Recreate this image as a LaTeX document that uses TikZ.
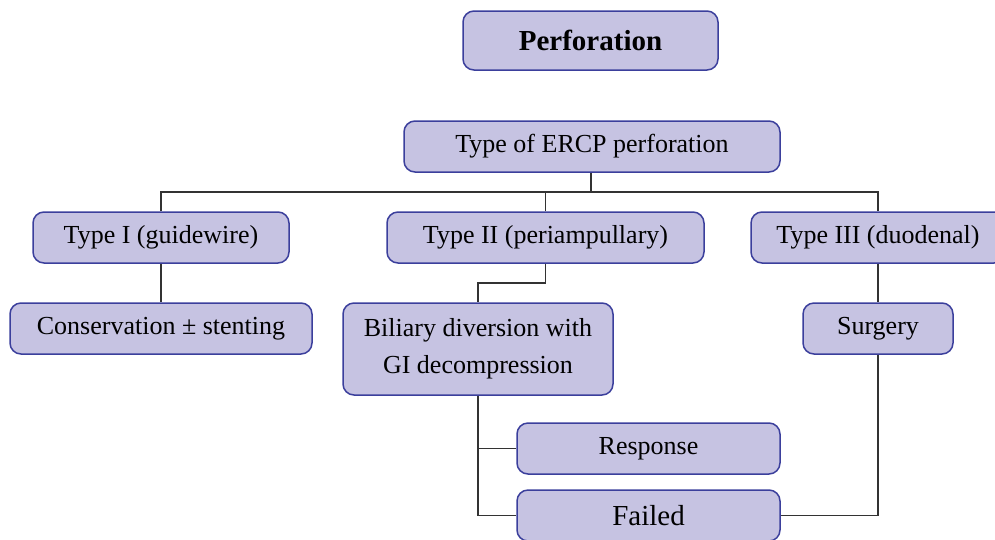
\documentclass[tikz,border=0pt]{standalone}
\usepackage{fontspec}
\setmainfont{Liberation Serif}
\definecolor{boxfill}{HTML}{C6C3E2}
\definecolor{boxline}{HTML}{3B3F9C}
\definecolor{linkcol}{HTML}{333333}
\begin{document}
\begin{tikzpicture}[x=1pt, y=-1pt,
    box/.style={draw=boxline, fill=boxfill, line width=1.5pt, rounded corners=11pt,
        inner sep=0pt, align=center, font=\fontsize{26}{37}\selectfont},
    link/.style={draw=linkcol, line width=1.3pt}]
    \useasboundingbox (0,0) rectangle (995,539);

    \node[box, minimum width=255pt, minimum height=59pt, font=\fontsize{29}{34}\selectfont\bfseries] (perf) at (590.5, 40.5) {Perforation};
    \node[box, minimum width=376pt, minimum height=51pt] (ercp) at (592, 146.5) {Type of ERCP perforation};

    \node[box, minimum width=256pt, minimum height=51pt] (t1) at (161, 237.5) {Type I (guidewire)};
    \node[box, minimum width=317pt, minimum height=51pt] (t2) at (545.5, 237.5) {Type II (periampullary)};
    \node[box, minimum width=254pt, minimum height=51pt] (t3) at (878, 237.5) {Type III (duodenal)};

    \node[box, minimum width=302pt, minimum height=51pt] (cons) at (161, 328.5) {Conservation ± stenting};
    \node[box, minimum width=270pt, minimum height=92pt] (bil) at (478, 349) {Biliary diversion with\\GI decompression};
    \node[box, minimum width=150pt, minimum height=51pt] (surg) at (878, 328.5) {Surgery};

    \node[box, minimum width=263pt, minimum height=51pt] (resp) at (648.5, 448.5) {Response};
    \node[box, minimum width=263pt, minimum height=51pt, font=\fontsize{29}{34}\selectfont] (fail) at (648.5, 515.5) {Failed};

    \coordinate (bus) at (591, 192);
    \coordinate (knee) at (478, 283);

    \draw[link] (ercp.south -| bus) -- (bus);
    \draw[link] (t1.north) |- (bus) -| (t3.north);
    \draw[link] (t2.north) -- (t2.north |- bus);
    \draw[link] (t1.south) -- (cons.north);
    \draw[link] (t2.south) |- (knee) -- (bil.north);
    \draw[link] (t3.south) -- (surg.north);
    \draw[link] (bil.south) |- (resp.west);
    \draw[link] (bil.south) |- (fail.west);
    \draw[link] (surg.south) |- (fail.east);
\end{tikzpicture}
\end{document}
